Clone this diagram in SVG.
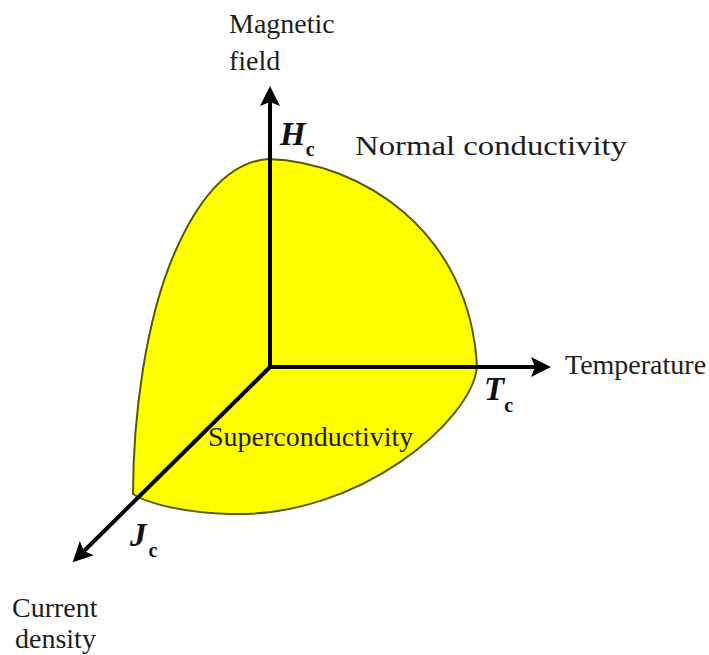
<svg xmlns="http://www.w3.org/2000/svg" width="709" height="655" viewBox="0 0 709 655">
<defs>
<style>
.t{font-family:"Liberation Serif","Times New Roman",serif;font-size:28px;fill:#1e1e1e}
.v{font-family:"Liberation Serif","Times New Roman",serif;font-weight:bold;font-style:italic;font-size:33px;fill:#111}
.s{font-style:normal;font-weight:bold;font-size:20px}
.ax{stroke:#000;stroke-width:4;fill:none}
</style>
<marker id="ah" markerWidth="5" markerHeight="5" refX="1" refY="2.5" orient="auto" markerUnits="strokeWidth" viewBox="0 0 5 5">
<path d="M0 0 L5 2.5 L0 5 L1 2.5 Z" fill="#000"/>
</marker>
</defs>
<rect width="709" height="655" fill="#fff"/>
<g id="region">
<path d="M133 494 C133 420 145 320 175 252 C200 195 230 162 268 159 C360 162 470 230 477 367 C472 420 360 518 230 514 C190 513 150 505 133 494 Z" fill="#ffff00" stroke="#5a5a00" stroke-width="2"/>
</g>
<g id="connectors">
<line class="ax" x1="270" y1="367" x2="270" y2="102" marker-end="url(#ah)"/>
<line class="ax" x1="270" y1="367" x2="535" y2="367" marker-end="url(#ah)"/>
<line class="ax" x1="270" y1="367" x2="84" y2="551" marker-end="url(#ah)"/>
</g>
<g id="labels">
<text class="t" x="229" y="33">Magnetic</text>
<text class="t" x="229" y="70">field</text>
<text class="t" x="355" y="155" textLength="272" lengthAdjust="spacingAndGlyphs">Normal conductivity</text>
<text class="t" x="565" y="374">Temperature</text>
<text class="t" x="208" y="446" fill="#111">Superconductivity</text>
<text class="t" x="12" y="617">Current</text>
<text class="t" x="15" y="648">density</text>
<text class="v" x="280" y="145">H<tspan class="s" dy="11">c</tspan></text>
<text class="v" x="484" y="400">T<tspan class="s" dy="12">c</tspan></text>
<text class="v" x="130" y="546">J<tspan class="s" dx="2" dy="11">c</tspan></text>
</g>
</svg>
